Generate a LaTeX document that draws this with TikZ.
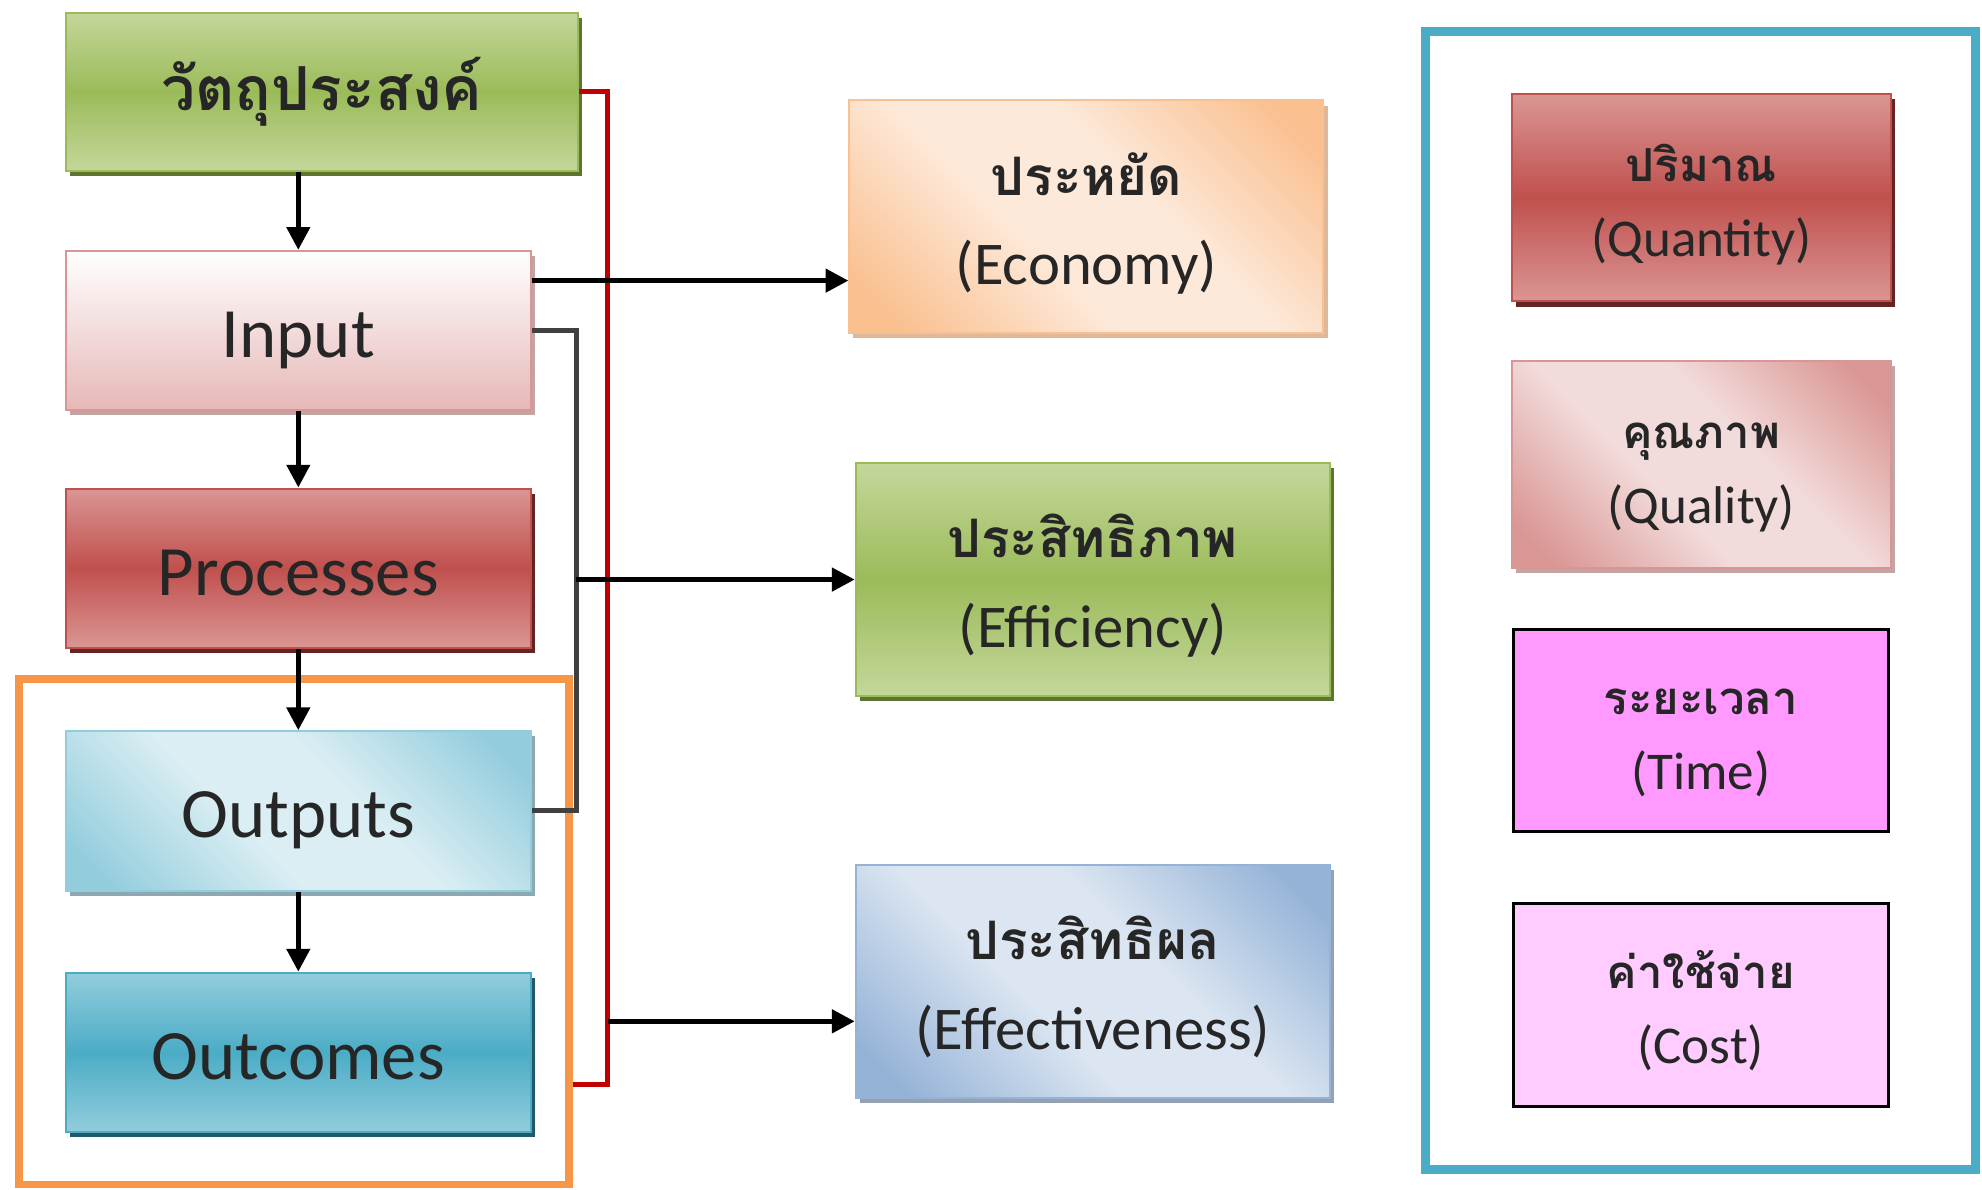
\documentclass[tikz,border=0pt]{standalone}
\usepackage{fontspec}
\setmainfont{Carlito}
\newfontfamily\thai[Script=Thai]{Loma}
\usetikzlibrary{arrows.meta,shadows,calc}
\definecolor{gMid}{HTML}{9BBB59}
\definecolor{gLt}{HTML}{C4D79B}
\definecolor{gDk}{HTML}{5E7530}
\definecolor{rMid}{HTML}{C0504D}
\definecolor{rLt}{HTML}{DA9694}
\definecolor{rDk}{HTML}{632523}
\definecolor{pkLt}{HTML}{F2DCDB}
\definecolor{pkBot}{HTML}{E6B8B7}
\definecolor{pkSh}{HTML}{C4A3A3}
\definecolor{bMid}{HTML}{4BACC6}
\definecolor{bLt}{HTML}{92CDDC}
\definecolor{bDk}{HTML}{215968}
\definecolor{aqLt}{HTML}{DAEEF3}
\definecolor{aqMd}{HTML}{93CDDD}
\definecolor{aqSh}{HTML}{8CA8B0}
\definecolor{oLt}{HTML}{FDE9D9}
\definecolor{oMd}{HTML}{FAC090}
\definecolor{oSh}{HTML}{DDB89B}
\definecolor{orangeBd}{HTML}{F79646}
\definecolor{sLt}{HTML}{DCE6F2}
\definecolor{sMd}{HTML}{95B3D7}
\definecolor{sSh}{HTML}{95A0B0}
\definecolor{magA}{HTML}{FF99FF}
\definecolor{magB}{HTML}{FFCCFF}
\definecolor{redLn}{HTML}{C00000}
\definecolor{grayLn}{HTML}{404040}
\pgfdeclareverticalshading{dO}{100bp}{color(0bp)=(oMd); color(20bp)=(oMd); color(42bp)=(oLt); color(58bp)=(oLt); color(80bp)=(oMd); color(100bp)=(oMd)}
\pgfdeclareverticalshading{dA}{100bp}{color(0bp)=(aqMd); color(20bp)=(aqMd); color(42bp)=(aqLt); color(58bp)=(aqLt); color(80bp)=(aqMd); color(100bp)=(aqMd)}
\pgfdeclareverticalshading{dS}{100bp}{color(0bp)=(sMd); color(20bp)=(sMd); color(42bp)=(sLt); color(58bp)=(sLt); color(80bp)=(sMd); color(100bp)=(sMd)}
\pgfdeclareverticalshading{dP}{100bp}{color(0bp)=(rLt); color(20bp)=(rLt); color(42bp)=(pkLt); color(58bp)=(pkLt); color(80bp)=(rLt); color(100bp)=(rLt)}
% two centred lines with fixed heights/depths: #1 h1, #2 d1, #3 h2, #4 d2, #5 line 1, #6 line 2
\newcommand\twolines[6]{\vbox{\offinterlineskip\halign{\hfil##\hfil\cr
  \rule[-#2]{0pt}{\dimexpr#1+#2\relax}#5\cr
  \rule[-#4]{0pt}{\dimexpr#3+#4\relax}#6\cr}}}
\newcommand\midtext[2]{\twolines{26.35pt}{10pt}{25.55pt}{8pt}{{\thai\bfseries\fontsize{21}{25}\selectfont #1}}{#2}}
\newcommand\righttext[2]{\twolines{23.95pt}{9pt}{20.65pt}{7pt}{{\thai\bfseries\fontsize{18}{22}\selectfont #1}}{#2}}
\begin{document}
\begin{tikzpicture}[x=0.5pt,y=-0.5pt,
  box/.style={draw=#1, rectangle, line width=0.8pt, inner sep=0pt, align=center, text=black!85},
  shd/.style={general shadow={fill=#1, shadow xshift=1.6pt, shadow yshift=-2pt}},
  vgrad/.style 2 args={top color=#1, bottom color=#1, middle color=#2},
  dgrad/.style={shade, shading=#1, shading angle=-45},
  leftbox/.style={minimum width=184pt, minimum height=63pt, text height=26pt, text depth=4.6pt, font=\fontsize{28}{33}\selectfont},
  midbox/.style={minimum width=187.5pt, minimum height=92pt, font=\fontsize{24}{29}\selectfont},
  rightbox/.style={minimum width=150pt, minimum height=82pt, font=\fontsize{21}{25}\selectfont},
  arr/.style={draw=black, line width=2pt, -{Triangle[length=9pt,width=9pt]}},
  gline/.style={draw=grayLn, line width=2pt},
  rline/.style={draw=redLn, line width=2pt},
]
\useasboundingbox (0,0) rectangle (1568,941);
\fill[white] (0,0) rectangle (1568,941);

% frames
\node[draw=orangeBd, line width=3pt, minimum width=217.5pt, minimum height=200pt, inner sep=0pt] (ob) at (232.5,737) {};
\node[draw=bMid, line width=3.5pt, minimum width=217.5pt, minimum height=450pt, inner sep=0pt] (bb) at (1345.5,475) {};

% left column
\node[box=gMid, vgrad={gLt}{gMid}, shd=gDk, minimum width=202.5pt, minimum height=62.5pt,
      font=\thai\bfseries\fontsize{24}{28}\selectfont] (obj) at (254.5,72.5) {วัตถุประสงค์};
\node[box=rLt, top color=white, bottom color=pkBot, shd=pkSh, leftbox] (inp) at (236,261.5) {Input};
\node[box=rMid, vgrad={rLt}{rMid}, shd=rDk, leftbox] (proc) at (236,449.5) {Processes};
\node[box=aqMd, dgrad=dA, shd=aqSh, leftbox] (outp) at (236,641.5) {Outputs};
\node[box=bMid, vgrad={bLt}{bMid}, shd=bDk, leftbox] (outc) at (236,832.5) {Outcomes};

% middle column
\node[box=oMd, dgrad=dO, shd=oSh, midbox] (eco) at (859.5,171.5)
  {\midtext{ประหยัด}{(Economy)}};
\node[box=gMid, vgrad={gLt}{gMid}, shd=gDk, midbox] (eff) at (864.5,458.5)
  {\midtext{ประสิทธิภาพ}{(Efficiency)}};
\node[box=sMd, dgrad=dS, shd=sSh, midbox] (efn) at (864.5,776.5)
  {\midtext{ประสิทธิผล}{(Effectiveness)}};

% right column
\node[box=rMid, vgrad={rLt}{rMid}, shd=rDk, rightbox] (qty) at (1346,156.5)
  {\righttext{ปริมาณ}{(Quantity)}};
\node[box=rLt, dgrad=dP, shd=pkSh, rightbox] (qlt) at (1346,367.5)
  {\righttext{คุณภาพ}{(Quality)}};
\node[box=black, line width=1.2pt, fill=magA, rightbox, minimum width=148.5pt, minimum height=80pt] (tim) at (1345.5,578)
  {\righttext{ระยะเวลา}{(Time)}};
\node[box=black, line width=1.2pt, fill=magB, rightbox, minimum width=148.5pt, minimum height=80pt] (cst) at (1345.5,795)
  {\righttext{ค่าใช้จ่าย}{(Cost)}};

% red bracket objective -> outcomes
\coordinate (oc1) at ([yshift=-12.75pt]outc.east);
\draw[rline] (obj.east) -- ++(23,0) coordinate (r1) -- (r1 |- oc1) -- (oc1 -| ob.east);

% gray bracket input -> outputs
\draw[gline] (inp.east) -- ++(35,0) coordinate (g1) |- (outp.east);

% vertical chain
\draw[arr] (obj.south -| inp.north) -- (inp.north);
\draw[arr] (inp.south) -- (proc.north);
\draw[arr] (proc.south) -- (outp.north);
\draw[arr] (outp.south) -- (outc.north);

% horizontal arrows
\draw[arr] ([yshift=19.75pt]inp.east) coordinate (e1) -- (e1 -| eco.west);
\draw[arr] (g1 |- eff.west) -- (eff.west);
\coordinate (ef1) at ([yshift=-15.75pt]efn.west);
\draw[arr] (r1 |- ef1) -- (ef1);
\end{tikzpicture}
\end{document}
